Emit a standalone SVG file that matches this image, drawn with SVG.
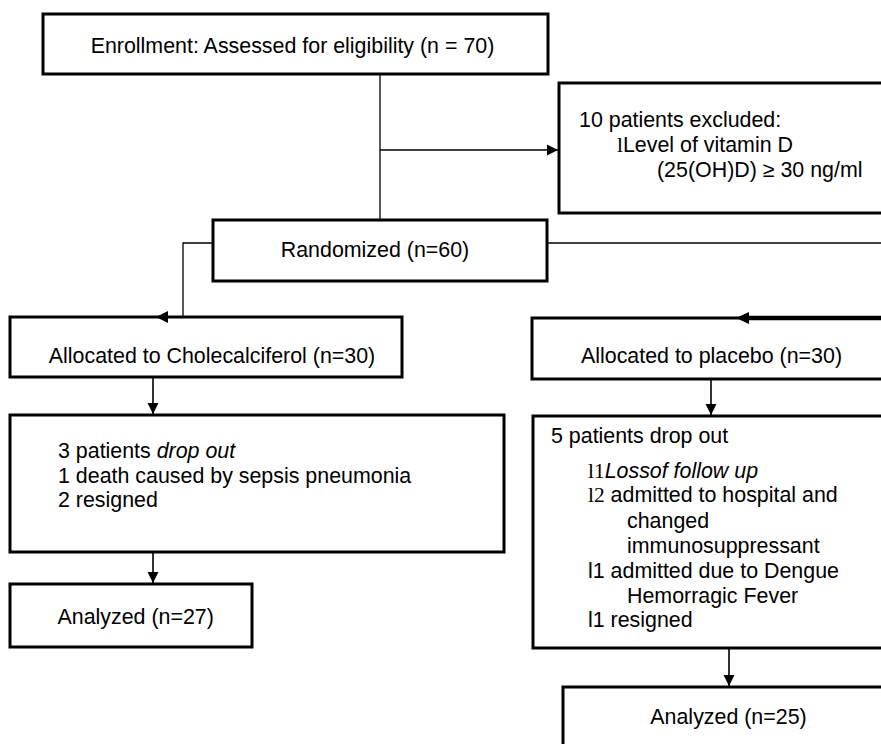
<svg xmlns="http://www.w3.org/2000/svg" width="881" height="744" viewBox="0 0 881 744">
<style>
text{font-family:"Liberation Sans",Arial,sans-serif;font-size:21.4px;fill:#000}
.c{text-anchor:middle}
.s{font-family:"Liberation Serif","Times New Roman",serif}
.i{font-style:italic}
.box{fill:#fff;stroke:#000;stroke-width:3}
.ln{fill:none;stroke:#000;stroke-width:1.3}
.ar{fill:none;stroke:#000;stroke-width:1.6}
</style>
<defs>
<marker id="ah" viewBox="0 0 10 10" refX="10" refY="5" markerWidth="7" markerHeight="7" markerUnits="strokeWidth" orient="auto">
<path d="M0,0 L10,5 L0,10 z" fill="#000"/>
</marker>
</defs>
<rect width="881" height="744" fill="#fff"/>
<g id="connectors">
<line class="ln" x1="380" y1="74" x2="380" y2="220"/>
<line class="ar" x1="380" y1="150" x2="558" y2="150" marker-end="url(#ah)"/>
<polyline class="ln" points="213,243 183,243 183,317"/>
<line class="ln" x1="547" y1="243" x2="881" y2="243"/>
<line class="ar" x1="153" y1="378" x2="153" y2="414" marker-end="url(#ah)"/>
<line class="ar" x1="711" y1="380" x2="711" y2="415" marker-end="url(#ah)"/>
<line class="ar" x1="153" y1="552" x2="153" y2="583" marker-end="url(#ah)"/>
<line class="ar" x1="729" y1="649" x2="729" y2="686" marker-end="url(#ah)"/>
</g>
<g id="enrollment">
<rect class="box" x="43" y="14" width="505" height="60"/>
<text class="c" x="292.5" y="53">Enrollment: Assessed for eligibility (n = 70)</text>
</g>
<g id="excluded">
<rect class="box" x="559" y="83" width="340" height="130"/>
<text x="579" y="127">10 patients excluded:</text>
<text x="617" y="152"><tspan class="s">l</tspan>Level of vitamin D</text>
<text x="657" y="177">(25(OH)D) ≥ 30 ng/ml</text>
</g>
<g id="randomized">
<rect class="box" x="213" y="220" width="334" height="61"/>
<text class="c" x="375" y="257">Randomized (n=60)</text>
</g>
<g id="alloc-chole">
<rect class="box" x="10" y="317" width="392" height="60"/>
<path d="M156,317 L168,311 L168,323 z" fill="#000"/>
<text class="c" x="212" y="363">Allocated to Cholecalciferol (n=30)</text>
</g>
<g id="alloc-placebo">
<rect class="box" x="532" y="318" width="360" height="61"/>
<line x1="745" y1="318" x2="881" y2="318" stroke="#000" stroke-width="4.5"/>
<path d="M736,318 L749,312 L749,324 z" fill="#000"/>
<text class="c" x="711.5" y="363">Allocated to placebo (n=30)</text>
</g>
<g id="dropout-chole">
<rect class="box" x="10" y="415" width="494" height="137"/>
<text x="58" y="458">3 patients <tspan class="i">drop out</tspan></text>
<text x="58" y="483">1 death caused by sepsis pneumonia</text>
<text x="58" y="507">2 resigned</text>
</g>
<g id="dropout-placebo">
<rect class="box" x="533" y="416" width="360" height="232"/>
<text x="551" y="443">5 patients drop out</text>
<text x="588" y="478"><tspan class="s">l1</tspan><tspan class="i">Lossof follow up</tspan></text>
<text x="588" y="502"><tspan class="s">l2</tspan> admitted to hospital and</text>
<text x="627" y="528">changed</text>
<text x="627" y="553">immunosuppressant</text>
<text x="588" y="578">l1 admitted due to Dengue</text>
<text x="627" y="603">Hemorragic Fever</text>
<text x="588" y="627">l1 resigned</text>
</g>
<g id="analyzed-chole">
<rect class="box" x="10" y="584" width="242" height="63"/>
<text class="c" x="135.7" y="624">Analyzed (n=27)</text>
</g>
<g id="analyzed-placebo">
<rect class="box" x="563" y="687" width="330" height="70"/>
<text class="c" x="728.5" y="724">Analyzed (n=25)</text>
</g>
</svg>
